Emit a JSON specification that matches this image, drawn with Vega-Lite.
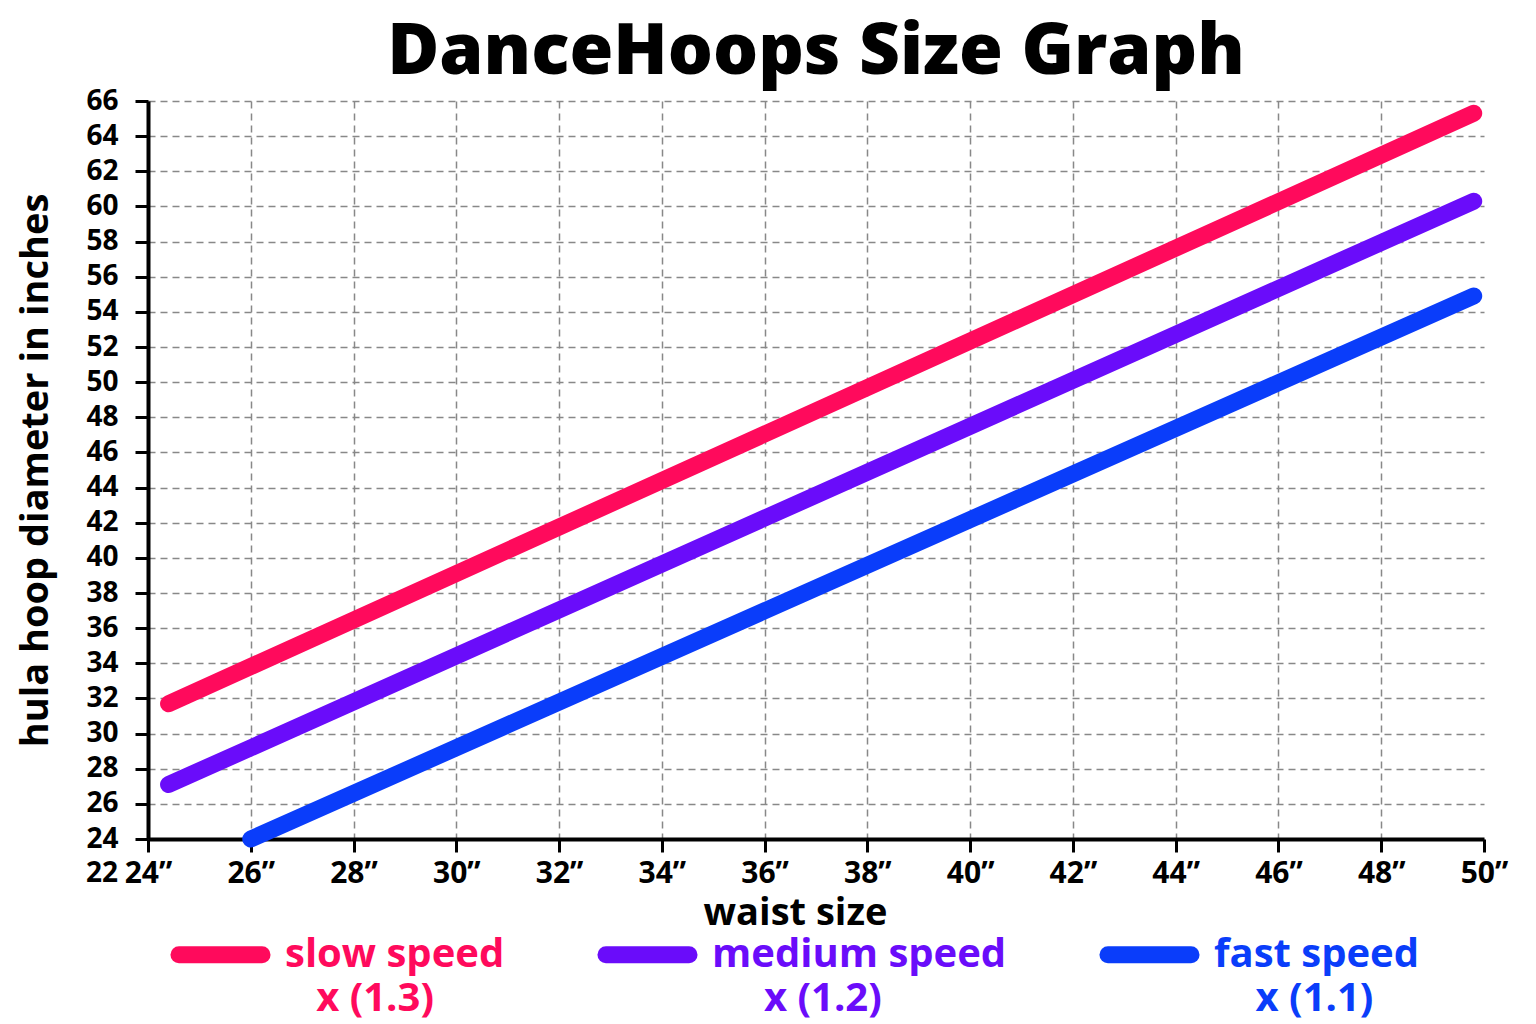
{
  "$schema": "https://vega.github.io/schema/vega-lite/v6.json",
  "background": "white",
  "autosize": {"type": "none"},
  "padding": {"left": 148, "top": 101, "right": 52, "bottom": 185},
  "width": 1336,
  "height": 738,
  "title": {
    "text": "DanceHoops Size Graph",
    "fontSize": 71,
    "fontWeight": 800,
    "color": "black",
    "offset": 22,
    "dy": 32
  },
  "data": {
    "values": [
      {"speed": "slow speed", "waist": 24.4, "diameter": 31.7},
      {"speed": "slow speed", "waist": 49.8, "diameter": 65.3},
      {"speed": "medium speed", "waist": 24.4, "diameter": 27.1},
      {"speed": "medium speed", "waist": 49.8, "diameter": 60.3},
      {"speed": "fast speed", "waist": 26.0, "diameter": 24.0},
      {"speed": "fast speed", "waist": 49.8, "diameter": 54.9}
    ]
  },
  "layer": [
    {
      "mark": {"type": "line", "strokeWidth": 17, "strokeCap": "round"},
      "encoding": {
        "x": {
          "field": "waist",
          "type": "quantitative",
          "title": "waist size",
          "scale": {"domain": [24, 50], "nice": false, "zero": false},
          "axis": {
            "values": [24, 26, 28, 30, 32, 34, 36, 38, 40, 42, 44, 46, 48, 50],
            "tickCount": 30,
            "labelExpr": "datum.label + '\u201d'",
            "titleX": 647,
            "gridOpacity": {"condition": {"test": "datum.value == 50", "value": 0}, "value": 1}
          }
        },
        "y": {
          "field": "diameter",
          "type": "quantitative",
          "title": "hula hoop diameter in inches",
          "scale": {"domain": [24, 66], "nice": false, "zero": false},
          "axis": {
            "values": [24, 26, 28, 30, 32, 34, 36, 38, 40, 42, 44, 46, 48, 50, 52, 54, 56, 58, 60, 62, 64, 66],
            "tickCount": 30,
            "labelOverlap": false,
            "labelPadding": 17,
            "titlePadding": 30
          }
        },
        "color": {
          "field": "speed",
          "type": "nominal",
          "title": null,
          "scale": {
            "domain": ["slow speed", "medium speed", "fast speed"],
            "range": ["#FF0A5C", "#6A0CFA", "#0A3DFA"]
          },
          "legend": {
            "orient": "none",
            "legendX": 22,
            "legendY": 803,
            "direction": "horizontal",
            "symbolType": "stroke",
            "symbolSize": 6900,
            "symbolStrokeWidth": 17,
            "labelFontSize": 40,
            "labelFontWeight": 700,
            "labelOffset": 14,
            "columnPadding": 66,
            "labelLimit": 400,
            "labelBaseline": "middle",
            "labelExpr": "datum.label == 'slow speed' ? ['slow speed', '\u200b\u00a0\u00a0\u00a0x (1.3)'] : datum.label == 'medium speed' ? ['medium speed', '\u200b\u00a0\u00a0\u00a0\u00a0\u00a0x (1.2)'] : ['fast speed', '\u200b\u00a0\u00a0\u00a0\u00a0x (1.1)']",
            "encode": {
              "symbols": {"update": {"strokeCap": {"value": "round"}}},
              "labels": {
                "update": {
                  "fill": {"scale": "color", "field": "value"},
                  "lineHeight": {"value": 44}
                }
              }
            }
          }
        }
      }
    },
    {
      "data": {"values": [{"waist": 24, "diameter": 22, "label": "22"}]},
      "mark": {"type": "text", "align": "right", "baseline": "middle", "dx": -30, "fontSize": 28, "fontWeight": 700, "color": "black"},
      "encoding": {
        "x": {"field": "waist", "type": "quantitative"},
        "y": {"field": "diameter", "type": "quantitative"},
        "text": {"field": "label", "type": "nominal"}
      }
    }
  ],
  "config": {
    "font": "Open Sans",
    "view": {"stroke": null},
    "axis": {
      "labelFont": "Open Sans",
      "titleFont": "Open Sans",
      "labelFontSize": 28,
      "labelFontWeight": 700,
      "labelColor": "black",
      "labelPadding": 4,
      "titleFontSize": 38,
      "titleFontWeight": 700,
      "titleColor": "black",
      "domainColor": "black",
      "domainWidth": 4,
      "tickColor": "black",
      "tickWidth": 3,
      "tickSize": 13,
      "grid": true,
      "gridColor": "#888888",
      "gridWidth": 1.5,
      "gridDash": [7, 5]
    },
    "axisX": {"titlePadding": 6, "labelFlush": false, "labelFontSize": 30, "labelPadding": 6},
    "axisY": {"labelAlign": "right"},
    "legend": {"labelFont": "Open Sans", "padding": 0},
    "title": {"font": "Open Sans", "anchor": "middle"}
  }
}
